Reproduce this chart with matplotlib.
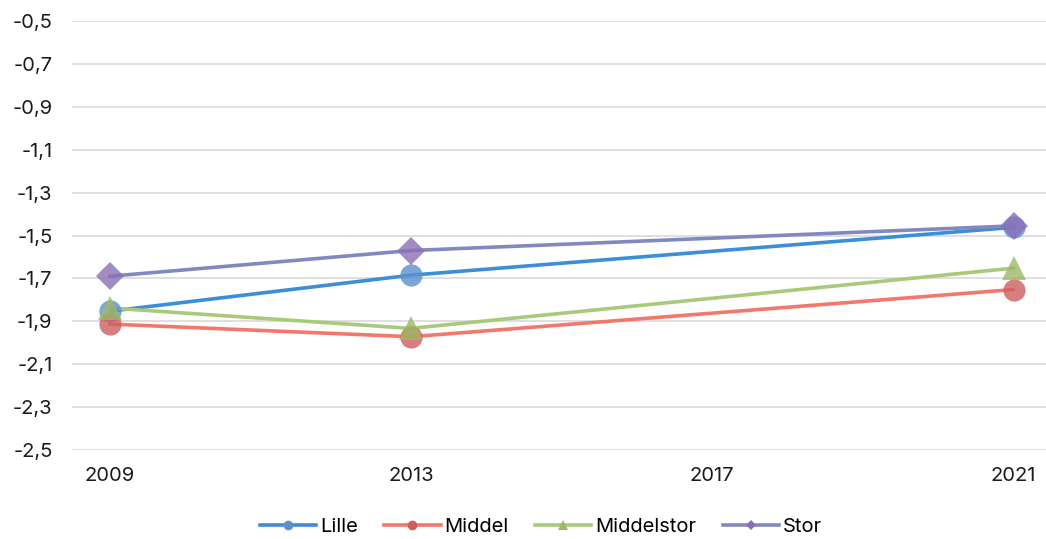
import matplotlib.pyplot as plt
from matplotlib.lines import Line2D
from matplotlib.ticker import FuncFormatter

plt.rcParams['font.family'] = ['Inter', 'DejaVu Sans']

years = [2009, 2013, 2021]
tick_years = [2009, 2013, 2017, 2021]
series_names = ['Lille', 'Middel', 'Middelstor', 'Stor']
lille = [-1.853, -1.685, -1.462]
middel = [-1.913, -1.972, -1.752]
middelstor = [-1.838, -1.933, -1.652]
stor = [-1.690, -1.570, -1.455]

line_colors = ['#3b8fd9', '#f4776b', '#a9c97b', '#8189bf']
marker_colors = ['#5b8fd0', '#cd5f5f', '#9db866', '#8a6fb4']
markers = ['o', 'o', '^', 'D']
msizes = [16, 16, 17, 14]

fig = plt.figure(figsize=(10.46, 5.39), dpi=100)
ax = fig.add_axes([72 / 1046, 1 - 450 / 539, 974 / 1046, 429 / 539])

data = [lille, middel, middelstor, stor]
handles = []
for vals, lc, mc, m, ms, name in zip(data, line_colors, marker_colors, markers, msizes, series_names):
    ax.plot(years, vals, color=lc, lw=2.6, solid_capstyle='round', zorder=3)
    ax.plot(years, vals, ls='none', marker=m, ms=ms, color=mc, alpha=0.8,
            markeredgewidth=0, zorder=4)
    handles.append(Line2D([], [], color=lc, lw=2.6, marker=m, ms=7 if m != 'D' else 5,
                          markerfacecolor=mc, markeredgewidth=0, label=name))

ax.set_xlim(2008.5, 2021.43)
ax.set_ylim(-2.5, -0.5)
ax.set_yticks([-2.5 + 0.2 * i for i in range(11)])
ax.yaxis.set_major_formatter(FuncFormatter(lambda v, p: f'{v:.1f}'.replace('.', ',')))
ax.set_xticks(tick_years)
ax.grid(True, axis='y', color='#dcdcdc', lw=1.3)
ax.set_axisbelow(True)
for s in ax.spines.values():
    s.set_visible(False)
ax.tick_params(axis='both', length=0, labelsize=14.5, colors='#1a1a1a')
ax.tick_params(axis='y', pad=14)
ax.tick_params(axis='x', pad=12)

fig.legend(handles=handles, loc='center', bbox_to_anchor=(541 / 1046, 1 - 527 / 539),
           ncol=4, frameon=False, fontsize=14.5, handlelength=2.8, handletextpad=0.2,
           columnspacing=1.3)

fig.savefig('out.png', dpi=100)
